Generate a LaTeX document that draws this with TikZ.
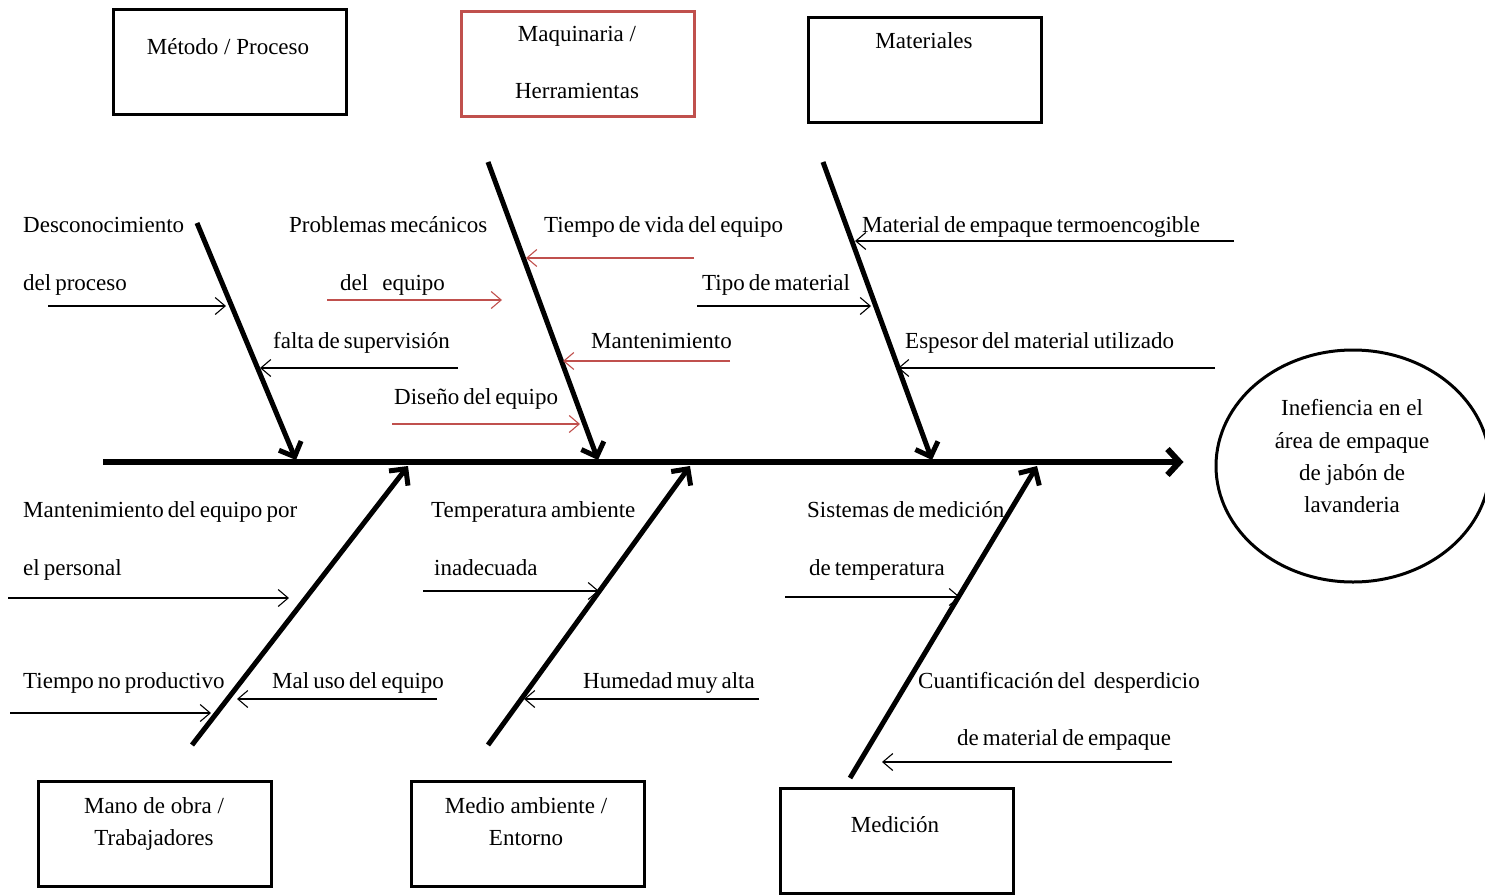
\documentclass[tikz,border=0pt]{standalone}
\usepackage{fontspec}
\setmainfont{Liberation Serif}
\newfontfamily\tightserif[WordSpace=0.7]{Liberation Serif}
\usetikzlibrary{arrows.meta,shapes.geometric}
\definecolor{brick}{RGB}{192,80,77}
\begin{document}
\begin{tikzpicture}[x=1pt,y=-1pt,
  txt/.style={inner sep=0pt, font=\fontsize{23}{28}\selectfont},
  lbl/.style={inner sep=0pt, font=\tightserif\fontsize{23}{28}\selectfont, anchor=base west},
  ctr/.style={txt, anchor=base},
  catbox/.style={draw, line width=3pt, minimum width=233pt, minimum height=105pt, inner sep=0pt},
  bone/.style={line width=5pt, -{Straight Barb[length=12pt,width=24pt]}},
  spine/.style={line width=6pt, -{Straight Barb[length=12pt,width=26pt]}},
  cause/.style={line width=1.1pt, -{Straight Barb[length=10pt,width=17pt]}},
  rcause/.style={cause, draw=brick}
]
\useasboundingbox (0,0) rectangle (1485,894);

% category boxes
\node[catbox] (bMet) at (230,62) {};
\node[catbox, draw=brick] (bMaq) at (577.5,63.5) {};
\node[catbox] (bMat) at (925,70) {};
\node[catbox] (bMan) at (154.5,834) {};
\node[catbox] (bMed) at (527.5,833.5) {};
\node[catbox] (bMic) at (896.5,840.5) {};

\node[ctr] (tMet) at (228,54) {Método / Proceso};
\node[ctr] (tMaq1) at (577,41) {Maquinaria /};
\node[ctr] (tMaq2) at (577,98) {Herramientas};
\node[ctr] (tMat) at (924,48) {Materiales};
\node[ctr] (tMan1) at (154,813) {Mano de obra /};
\node[ctr] (tMan2) at (154,845) {Trabajadores};
\node[ctr] (tMed1) at (526,813) {Medio ambiente /};
\node[ctr] (tMed2) at (526,845) {Entorno};
\node[ctr] (tMic) at (895,832) {Medición};

% effect
\node[draw, ellipse, line width=3pt, minimum width=274pt, minimum height=232pt] (eff) at (1353,466) {};
\node[ctr] (e1) at (1352,415) {Inefiencia en el};
\node[ctr] (e2) at (1352,448) {área de empaque};
\node[ctr] (e3) at (1352,480) {de jabón de};
\node[ctr] (e4) at (1352,512) {lavanderia};

% spine
\coordinate (tail) at (103,462);
\draw[spine, shorten >=31pt] (tail) -- (tail -| eff.west);

% main bones
\coordinate (u1s) at (197,223); \coordinate (u1e) at (296,460);
\coordinate (u2s) at (488,162); \coordinate (u2e) at (598,460);
\coordinate (u3s) at (823,162); \coordinate (u3e) at (932,460);
\coordinate (l1s) at (192,745); \coordinate (l1e) at (408,466);
\coordinate (l2s) at (488,745); \coordinate (l2e) at (690,466);
\coordinate (l3s) at (850,778); \coordinate (l3e) at (1037,466);
\foreach \b in {u1,u2,u3,l1,l2,l3} \draw[bone] (\b s) -- (\b e);

% Método / Proceso causes
\node[lbl] (c1a) at (23,232) {Desconocimiento};
\node[lbl] (c1b) at (23,290) {del proceso};
\coordinate (a1s) at (48,306); \coordinate (a1e) at (226,306);
\draw[cause] (a1s) -- (a1e);
\node[lbl] (c2) at (273,348) {falta de supervisión};
\coordinate (a2s) at (458,368); \coordinate (a2e) at (260,368);
\draw[cause] (a2s) -- (a2e);

% Maquinaria / Herramientas causes
\node[lbl] (c3a) at (289,232) {Problemas mecánicos};
\node[lbl] (c3b) at (340,290) {del\hspace{14pt}equipo};
\coordinate (a3s) at (327,300); \coordinate (a3e) at (502,300);
\draw[rcause] (a3s) -- (a3e);
\node[lbl] (c4) at (394,404) {Diseño del equipo};
\coordinate (a4s) at (392,424); \coordinate (a4e) at (580,424);
\draw[rcause] (a4s) -- (a4e);
\node[lbl] (c5) at (544,232) {Tiempo de vida del equipo};
\coordinate (a5s) at (694,258); \coordinate (a5e) at (526,258);
\draw[rcause] (a5s) -- (a5e);
\node[lbl] (c6) at (591,348) {Mantenimiento};
\coordinate (a6s) at (730,361); \coordinate (a6e) at (563,361);
\draw[rcause] (a6s) -- (a6e);

% Materiales causes
\node[lbl] (c7) at (862,232) {Material de empaque termoencogible};
\coordinate (a7s) at (1234,241); \coordinate (a7e) at (855,241);
\draw[cause] (a7s) -- (a7e);
\node[lbl] (c8) at (702,290) {Tipo de material};
\coordinate (a8s) at (697,306); \coordinate (a8e) at (871,306);
\draw[cause] (a8s) -- (a8e);
\node[lbl] (c9) at (905,348) {Espesor del material utilizado};
\coordinate (a9s) at (1215,368); \coordinate (a9e) at (898,368);
\draw[cause] (a9s) -- (a9e);

% Mano de obra / Trabajadores causes
\node[lbl] (c10a) at (23,517) {Mantenimiento del equipo por};
\node[lbl] (c10b) at (23,575) {el personal};
\coordinate (a10s) at (8,598); \coordinate (a10e) at (289,598);
\draw[cause] (a10s) -- (a10e);
\node[lbl] (c11) at (23,688) {Tiempo no productivo};
\coordinate (a11s) at (10,713); \coordinate (a11e) at (211,713);
\draw[cause] (a11s) -- (a11e);
\node[lbl] (c12) at (272,688) {Mal uso del equipo};
\coordinate (a12s) at (437,699); \coordinate (a12e) at (237,699);
\draw[cause] (a12s) -- (a12e);

% Medio ambiente / Entorno causes
\node[lbl] (c13a) at (431,517) {Temperatura ambiente};
\node[lbl] (c13b) at (434,575) {inadecuada};
\coordinate (a13s) at (423,591); \coordinate (a13e) at (599,591);
\draw[cause] (a13s) -- (a13e);
\node[lbl] (c14) at (583,688) {Humedad muy alta};
\coordinate (a14s) at (759,699); \coordinate (a14e) at (524,699);
\draw[cause] (a14s) -- (a14e);

% Medición causes
\node[lbl] (c15a) at (807,517) {Sistemas de medición};
\node[lbl] (c15b) at (809,575) {de temperatura};
\coordinate (a15s) at (785,597); \coordinate (a15e) at (960,597);
\draw[cause] (a15s) -- (a15e);
\node[lbl] (c16a) at (918,688) {Cuantificación del\ \ desperdicio};
\node[lbl] (c16b) at (957,745) {de material de empaque};
\coordinate (a16s) at (1172,762); \coordinate (a16e) at (882,762);
\draw[cause] (a16s) -- (a16e);
\end{tikzpicture}
\end{document}
